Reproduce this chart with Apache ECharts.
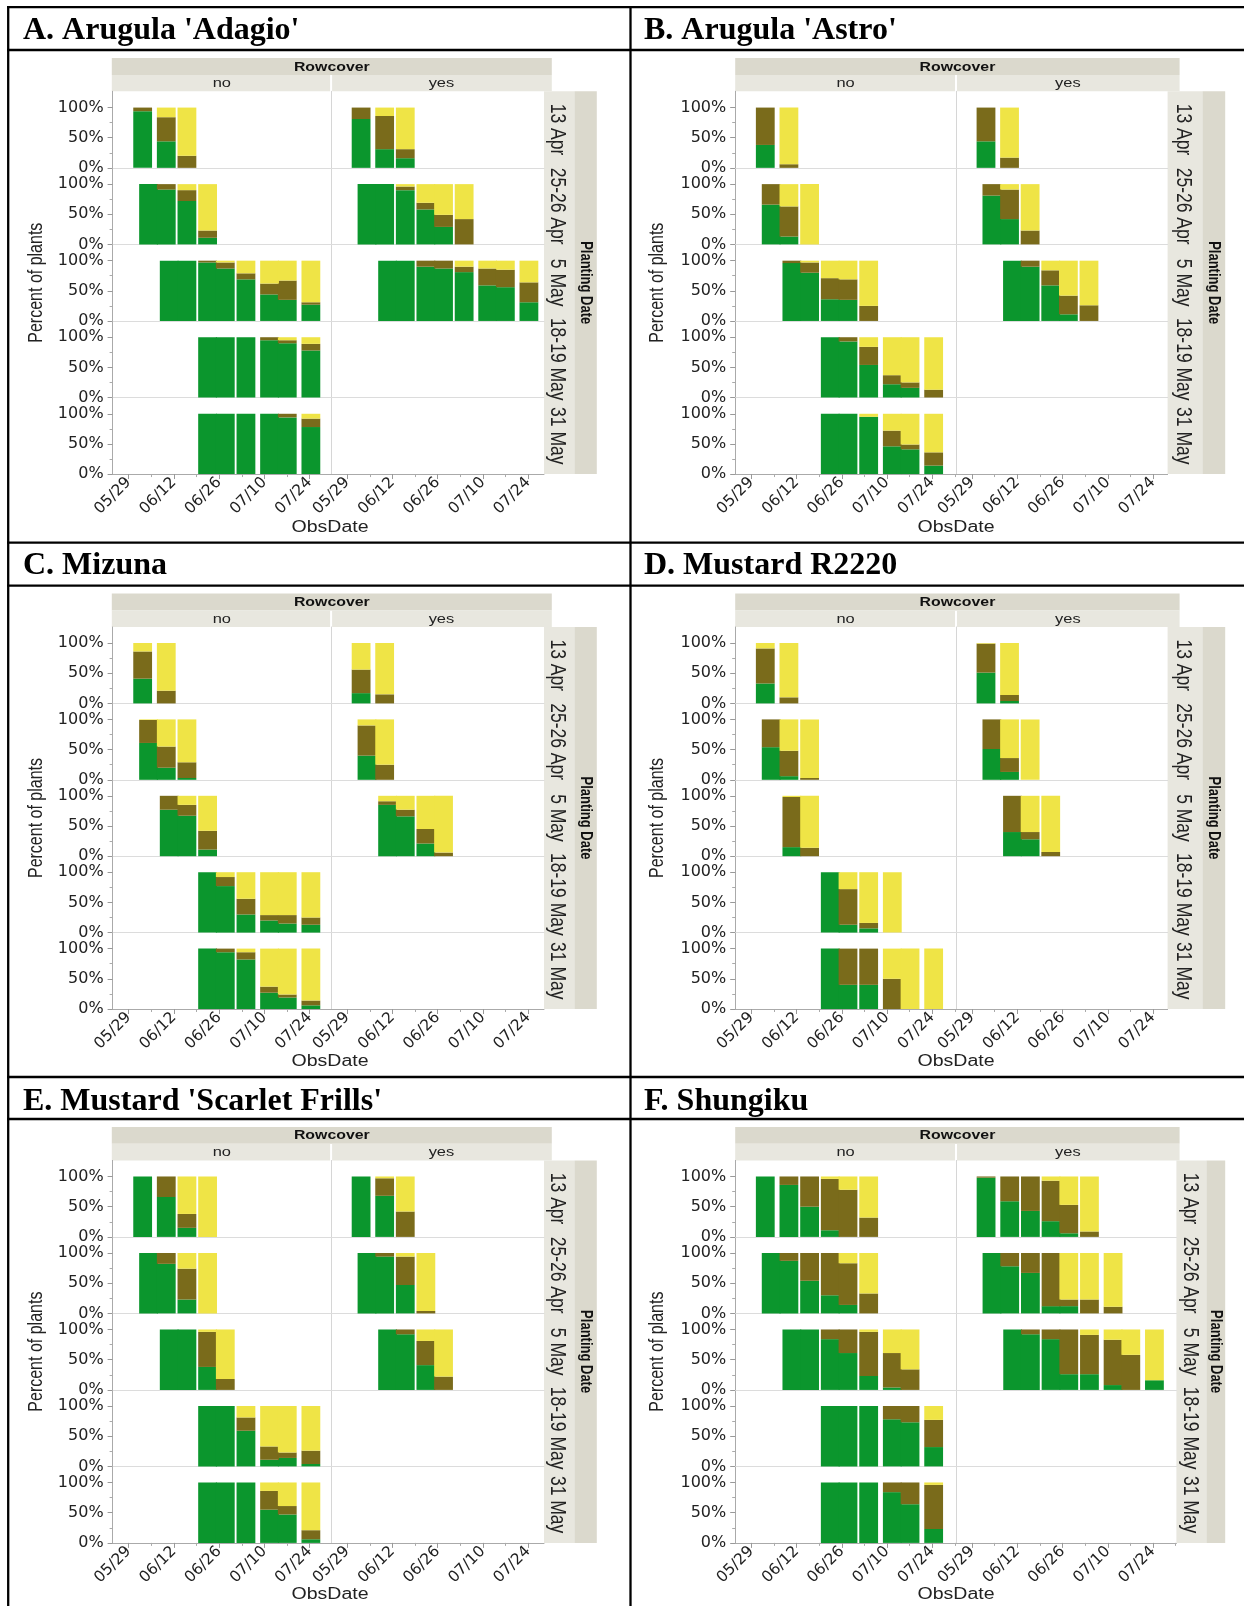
<!DOCTYPE html>
<html>
<head>
<meta charset="UTF-8">
<script src="https://cdn.jsdelivr.net/npm/echarts@6/dist/echarts.min.js"></script>
<style>
  html, body { margin: 0; padding: 0; background: #fff; }
  #chart { width: 1244px; height: 1606px; }
</style>
</head>
<body>
<div id="chart"></div>
<script>
const panelTitles = ["A. Arugula 'Adagio'", "B. Arugula 'Astro'", "C. Mizuna",
  "D. Mustard R2220", "E. Mustard 'Scarlet Frills'", "F. Shungiku"];
const rowcoverLevels = ['no', 'yes'];
const plantingDates = ['13 Apr', '25-26 Apr', '5 May', '18-19 May', '31 May'];
const dateTicks = ['05/29', '06/12', '06/26', '07/10', '07/24'];
const minorDateTicks = ['06/05', '06/19', '07/03', '07/17', '07/31'];
const percentTicks = [0, 50, 100];
const minorPercentTicks = [25, 75];
const stageNames = ['green', 'olive', 'yellow'];
const stageColors = ['#0b962d', '#7a6b1b', '#efe446'];

// one line per planting date; each bar is [ObsDate, % green, % olive, % yellow]
const adagioNo = [
  [['05/31', 94, 6, 0], ['06/08', 44, 40, 16], ['06/15', 0, 20, 80]],
  [['06/02', 100, 0, 0], ['06/08', 91, 9, 0], ['06/15', 72, 18, 10], ['06/22', 11, 12, 77]],
  [['06/09', 100, 0, 0], ['06/15', 100, 0, 0], ['06/22', 97, 3, 0], ['06/28', 87, 10, 3], ['07/05', 69, 10, 21], ['07/13', 44, 18, 38], ['07/19', 35, 32, 33], ['07/27', 27, 4, 69]],
  [['06/22', 100, 0, 0], ['06/28', 100, 0, 0], ['07/05', 100, 0, 0], ['07/13', 95, 5, 0], ['07/19', 90, 5, 5], ['07/27', 78, 11, 11]],
  [['06/22', 100, 0, 0], ['06/28', 100, 0, 0], ['07/05', 100, 0, 0], ['07/13', 100, 0, 0], ['07/19', 94, 6, 0], ['07/27', 78, 14, 8]]
];
const adagioYes = [
  [['05/31', 81, 19, 0], ['06/08', 31, 55, 14], ['06/15', 16, 15, 69]],
  [['06/02', 100, 0, 0], ['06/08', 100, 0, 0], ['06/15', 90, 6, 4], ['06/22', 58, 11, 31], ['06/28', 29, 20, 51], ['07/05', 0, 42, 58]],
  [['06/09', 100, 0, 0], ['06/15', 100, 0, 0], ['06/22', 90, 10, 0], ['06/28', 87, 13, 0], ['07/05', 81, 9, 10], ['07/13', 59, 28, 13], ['07/19', 56, 29, 15], ['07/27', 31, 33, 36]],
  [],
  []
];
const astroNo = [
  [['05/31', 38, 62, 0], ['06/08', 0, 6, 94]],
  [['06/02', 66, 34, 0], ['06/08', 13, 50, 37], ['06/15', 0, 0, 100]],
  [['06/09', 96, 4, 0], ['06/15', 80, 17, 3], ['06/22', 36, 35, 29], ['06/28', 35, 34, 31], ['07/05', 0, 25, 75]],
  [['06/22', 100, 0, 0], ['06/28', 93, 7, 0], ['07/05', 54, 30, 16], ['07/13', 22, 15, 63], ['07/19', 16, 9, 75], ['07/27', 0, 13, 87]],
  [['06/22', 100, 0, 0], ['06/28', 100, 0, 0], ['07/05', 95, 0, 5], ['07/13', 46, 26, 28], ['07/19', 41, 8, 51], ['07/27', 14, 22, 64]]
];
const astroYes = [
  [['05/31', 44, 56, 0], ['06/08', 0, 17, 83]],
  [['06/02', 81, 19, 0], ['06/08', 42, 49, 9], ['06/15', 0, 23, 77]],
  [['06/09', 100, 0, 0], ['06/15', 90, 10, 0], ['06/22', 59, 25, 16], ['06/28', 11, 31, 58], ['07/05', 0, 26, 74]],
  [],
  []
];
const mizunaNo = [
  [['05/31', 41, 45, 14], ['06/08', 0, 21, 79]],
  [['06/02', 61, 38, 1], ['06/08', 20, 35, 45], ['06/15', 3, 26, 71]],
  [['06/09', 77, 23, 0], ['06/15', 67, 18, 15], ['06/22', 11, 31, 58]],
  [['06/22', 100, 0, 0], ['06/28', 77, 15, 8], ['07/05', 30, 26, 44], ['07/13', 20, 9, 71], ['07/19', 15, 14, 71], ['07/27', 13, 12, 75]],
  [['06/22', 100, 0, 0], ['06/28', 94, 6, 0], ['07/05', 82, 12, 6], ['07/13', 27, 10, 63], ['07/19', 19, 5, 76], ['07/27', 6, 8, 86]]
];
const mizunaYes = [
  [['05/31', 17, 39, 44], ['06/08', 0, 15, 85]],
  [['06/02', 40, 50, 10], ['06/08', 0, 25, 75]],
  [['06/09', 85, 6, 9], ['06/15', 66, 11, 23], ['06/22', 21, 24, 55], ['06/28', 0, 6, 94]],
  [],
  []
];
const r2220No = [
  [['05/31', 33, 58, 9], ['06/08', 0, 10, 90]],
  [['06/02', 54, 46, 0], ['06/08', 6, 42, 52], ['06/15', 0, 3, 97]],
  [['06/09', 15, 83, 2], ['06/15', 0, 14, 86]],
  [['06/22', 100, 0, 0], ['06/28', 13, 59, 28], ['07/05', 7, 9, 84], ['07/13', 0, 0, 100]],
  [['06/22', 100, 0, 0], ['06/28', 40, 60, 0], ['07/05', 40, 60, 0], ['07/13', 0, 50, 50], ['07/19', 0, 0, 100], ['07/27', 0, 0, 100]]
];
const r2220Yes = [
  [['05/31', 51, 48, 1], ['06/08', 4, 10, 86]],
  [['06/02', 51, 49, 0], ['06/08', 13, 23, 64], ['06/15', 0, 0, 100]],
  [['06/09', 40, 60, 0], ['06/15', 28, 12, 60], ['06/22', 0, 7, 93]],
  [],
  []
];
const scarletNo = [
  [['05/31', 100, 0, 0], ['06/08', 66, 34, 0], ['06/15', 15, 23, 62], ['06/22', 0, 0, 100]],
  [['06/02', 100, 0, 0], ['06/08', 82, 18, 0], ['06/15', 23, 51, 26], ['06/22', 0, 0, 100]],
  [['06/09', 100, 0, 0], ['06/15', 100, 0, 0], ['06/22', 38, 58, 4], ['06/28', 0, 18, 82]],
  [['06/22', 100, 0, 0], ['06/28', 100, 0, 0], ['07/05', 59, 22, 19], ['07/13', 11, 22, 67], ['07/19', 14, 9, 77], ['07/27', 4, 22, 74]],
  [['06/22', 100, 0, 0], ['06/28', 100, 0, 0], ['07/05', 100, 0, 0], ['07/13', 55, 31, 14], ['07/19', 47, 14, 39], ['07/27', 6, 15, 79]]
];
const scarletYes = [
  [['05/31', 100, 0, 0], ['06/08', 68, 29, 3], ['06/15', 0, 42, 58]],
  [['06/02', 100, 0, 0], ['06/08', 94, 6, 0], ['06/15', 47, 47, 6], ['06/22', 0, 4, 96]],
  [['06/09', 100, 0, 0], ['06/15', 92, 8, 0], ['06/22', 41, 40, 19], ['06/28', 0, 22, 78]],
  [],
  []
];
const shungikuNo = [
  [['05/31', 100, 0, 0], ['06/08', 86, 14, 0], ['06/15', 50, 50, 0], ['06/22', 11, 85, 4], ['06/28', 0, 78, 22], ['07/05', 0, 32, 68]],
  [['06/02', 100, 0, 0], ['06/08', 87, 13, 0], ['06/15', 54, 46, 0], ['06/22', 30, 70, 0], ['06/28', 14, 69, 17], ['07/05', 0, 33, 67]],
  [['06/09', 100, 0, 0], ['06/15', 100, 0, 0], ['06/22', 84, 16, 0], ['06/28', 61, 39, 0], ['07/05', 23, 73, 4], ['07/13', 4, 57, 39], ['07/19', 0, 34, 66]],
  [['06/22', 100, 0, 0], ['06/28', 100, 0, 0], ['07/05', 100, 0, 0], ['07/13', 78, 22, 0], ['07/19', 73, 27, 0], ['07/27', 32, 45, 23]],
  [['06/22', 100, 0, 0], ['06/28', 100, 0, 0], ['07/05', 100, 0, 0], ['07/13', 84, 16, 0], ['07/19', 64, 36, 0], ['07/27', 23, 73, 4]]
];
const shungikuYes = [
  [['05/31', 98, 2, 0], ['06/08', 59, 41, 0], ['06/15', 43, 57, 0], ['06/22', 26, 67, 7], ['06/28', 6, 47, 47], ['07/05', 0, 9, 91]],
  [['06/02', 100, 0, 0], ['06/08', 78, 22, 0], ['06/15', 67, 33, 0], ['06/22', 12, 88, 0], ['06/28', 12, 11, 77], ['07/05', 0, 23, 77], ['07/13', 0, 11, 89]],
  [['06/09', 100, 0, 0], ['06/15', 92, 8, 0], ['06/22', 84, 16, 0], ['06/28', 26, 74, 0], ['07/05', 26, 65, 9], ['07/13', 8, 75, 17], ['07/19', 0, 58, 42], ['07/27', 16, 0, 84]],
  [],
  []
];
const panelData = [
  [adagioNo, adagioYes], [astroNo, astroYes], [mizunaNo, mizunaYes],
  [r2220No, r2220Yes], [scarletNo, scarletYes], [shungikuNo, shungikuYes]
];

// layout (pixels)
const PX_PER_DAY = 3.229;
const X_START = '05/24';
const layoutCols = [
  { noLeft: 112.6, noWidth: 218.5, yesLeft: 331.1, yesWidth: 212.9, hdrLeft: 111.8, hdrRight: 551.8,
    stripL: 544, stripMid: 574.4, stripR: 596.8, yTitleX: 37, titleX: 23, obsX: 330 },
  { noLeft: 735.2, noWidth: 220.8, yesLeft: 956, yesWidth: 211.6, hdrLeft: 735.2, hdrRight: 1179.6,
    stripL: 1167.6, stripMid: 1202.4, stripR: 1225.2, yTitleX: 658, titleX: 644, obsX: 956 }
];
const layoutBands = [
  { titleY: 31, hdrTop: 58, subTop: 75, plotTop: 91.3, rowH: 76.55, yMax: 127, obsY: 528 },
  { titleY: 566, hdrTop: 593.5, subTop: 610.5, plotTop: 627, rowH: 76.4, yMax: 126.5, obsY: 1062 },
  { titleY: 1102, hdrTop: 1127, subTop: 1143.7, plotTop: 1160.4, rowH: 76.5, yMax: 126.6, obsY: 1595 }
];
// panel F has a wider yes column and a narrower strip
const panelOverrides = { 5: { yesWidth: 220.4, stripL: 1176.4, stripMid: 1206.4 } };
// the source figure is stretched sideways; text is widened to match
const STRETCH = 1.22;

const SANS = '"Liberation Sans", Arial, sans-serif';
const WIDE_SANS = '"DejaVu Sans", "Liberation Sans", sans-serif';
const DAY = 86400000;
function ts(md) {
  const [m, d] = md.split('/').map(Number);
  return Date.UTC(2017, m - 1, d);
}
function dateLabel(v) {
  const dt = new Date(Math.round(v / DAY) * DAY);
  return String(dt.getUTCMonth() + 1).padStart(2, '0') + '/' + String(dt.getUTCDate()).padStart(2, '0');
}

const grids = [], xAxes = [], yAxes = [], series = [], graphics = [];

function addRect(x, y, w, h, fill) {
  graphics.push({ type: 'rect', silent: true, shape: { x, y, width: w, height: h }, style: { fill } });
}
function addText(x, y, text, size, opts) {
  opts = opts || {};
  const rotated = !!opts.rotation;
  const s = opts.stretch || 1;
  graphics.push({
    type: 'text', silent: true, x, y, rotation: opts.rotation || 0,
    scaleX: rotated ? 1 : s, scaleY: rotated ? s : 1,
    style: {
      text, fill: opts.color || '#222', fontSize: size, fontFamily: opts.family || SANS,
      fontWeight: opts.weight || 'normal', align: opts.align || 'center', verticalAlign: 'middle'
    }
  });
}
function addLine(x1, y1, x2, y2, w) {
  graphics.push({ type: 'line', silent: true, shape: { x1, y1, x2, y2 }, style: { stroke: '#000', lineWidth: w } });
}

panelTitles.forEach((title, p) => {
  const col = Object.assign({}, layoutCols[p % 2], panelOverrides[p] || {});
  const band = layoutBands[Math.floor(p / 2)];
  const plotBottom = band.plotTop + 5 * band.rowH;

  // headers and strips
  addRect(col.hdrLeft, band.hdrTop, col.hdrRight - col.hdrLeft, band.subTop - band.hdrTop, '#dbd9cd');
  addRect(col.hdrLeft, band.subTop, col.yesLeft - col.hdrLeft - 1, band.plotTop - band.subTop, '#e8e7df');
  addRect(col.yesLeft + 1, band.subTop, col.hdrRight - col.yesLeft - 1, band.plotTop - band.subTop, '#e8e7df');
  addText((col.hdrLeft + col.hdrRight) / 2, (band.hdrTop + band.subTop) / 2 + 0.5, 'Rowcover', 13,
    { weight: 'bold', color: '#111', stretch: STRETCH });
  addText(col.noLeft + col.noWidth / 2, (band.subTop + band.plotTop) / 2 + 0.5, rowcoverLevels[0], 13.5,
    { color: '#222', stretch: STRETCH });
  addText((col.yesLeft + col.hdrRight) / 2, (band.subTop + band.plotTop) / 2 + 0.5, rowcoverLevels[1], 13.5,
    { color: '#222', stretch: STRETCH });
  addRect(col.stripL, band.plotTop, col.stripMid - col.stripL, plotBottom - band.plotTop, '#e8e7df');
  addRect(col.stripMid, band.plotTop, col.stripR - col.stripMid, plotBottom - band.plotTop, '#dbd9cd');
  plantingDates.forEach((pd, r) => {
    addText((col.stripL + col.stripMid) / 2 - 2, band.plotTop + (r + 0.5) * band.rowH, pd, 17.5,
      { rotation: -Math.PI / 2, color: '#222', stretch: STRETCH });
  });
  addText((col.stripMid + col.stripR) / 2, (band.plotTop + plotBottom) / 2, 'Planting Date', 13,
    { rotation: -Math.PI / 2, weight: 'bold', color: '#111', stretch: STRETCH });
  addText(col.yTitleX, (band.plotTop + plotBottom) / 2, 'Percent of plants', 16,
    { rotation: Math.PI / 2, color: '#222', stretch: STRETCH });
  addText(col.obsX, band.obsY, 'ObsDate', 16, { color: '#222', stretch: STRETCH });
  addText(col.titleX, band.titleY, title, 32,
    { align: 'left', weight: 'bold', family: '"Liberation Serif", "Times New Roman", serif', color: '#000' });

  rowcoverLevels.forEach((rc, c) => {
    const left = c === 0 ? col.noLeft : col.yesLeft;
    const width = c === 0 ? col.noWidth : col.yesWidth;
    const xMin = ts(X_START);
    const xMax = xMin + width / PX_PER_DAY * DAY;
    plantingDates.forEach((pd, r) => {
      const gi = grids.length;
      const bottomRow = r === plantingDates.length - 1;
      grids.push({ left, top: band.plotTop + r * band.rowH, width, height: band.rowH, outerBoundsMode: 'none' });
      // visible date axis (value type, so ticks can sit on the listed dates)
      xAxes.push({
        type: 'value', gridIndex: gi, min: xMin, max: xMax, position: 'bottom',
        splitLine: { show: false },
        axisLine: { show: true, onZero: false, lineStyle: { color: bottomRow ? '#aaaaaa' : '#dcdcdc', width: 1 } },
        axisTick: { show: bottomRow, length: 5, customValues: dateTicks.map(ts), lineStyle: { color: '#999' } },
        axisLabel: {
          show: bottomRow, customValues: dateTicks.map(ts), formatter: dateLabel, rotate: 45,
          margin: 6, fontSize: 15.5, fontFamily: WIDE_SANS, color: '#222'
        }
      });
      // hidden time axis that the bars use, same extent
      xAxes.push({
        type: 'time', gridIndex: gi, min: xMin, max: xMax, position: 'bottom',
        splitLine: { show: false }, axisLine: { show: false, onZero: false },
        axisTick: { show: false }, axisLabel: { show: false }
      });
      const ti = xAxes.length - 1;
      yAxes.push({
        type: 'value', gridIndex: gi, min: 0, max: band.yMax,
        splitLine: { show: false },
        axisLine: { show: true, onZero: false, lineStyle: { color: c === 0 ? '#aaaaaa' : '#d6d6d6', width: 1 } },
        axisTick: { show: c === 0, length: 5, customValues: percentTicks, lineStyle: { color: '#999' } },
        axisLabel: {
          show: c === 0, customValues: percentTicks, formatter: v => v + '%',
          margin: 9, fontSize: 16, fontFamily: WIDE_SANS, color: '#222'
        }
      });
      const yi = yAxes.length - 1;
      if (bottomRow) {
        xAxes.push({
          type: 'value', gridIndex: gi, min: xMin, max: xMax, position: 'bottom',
          splitLine: { show: false }, axisLine: { show: false, onZero: false }, axisLabel: { show: false },
          axisTick: { show: true, length: 3, customValues: minorDateTicks.map(ts), lineStyle: { color: '#aaa' } }
        });
      }
      if (c === 0) {
        yAxes.push({
          type: 'value', gridIndex: gi, min: 0, max: band.yMax, position: 'left',
          splitLine: { show: false }, axisLine: { show: false, onZero: false }, axisLabel: { show: false },
          axisTick: { show: true, length: 3, customValues: minorPercentTicks, lineStyle: { color: '#aaa' } }
        });
      }
      const bars = panelData[p][c][r];
      if (!bars.length) return;
      stageNames.forEach((name, k) => {
        series.push({
          type: 'bar', name, xAxisIndex: ti, yAxisIndex: yi, stack: 'g' + gi,
          barWidth: 18.8, silent: true, clip: true,
          itemStyle: { color: stageColors[k] },
          data: bars.map(b => [ts(b[0]), b[k + 1]])
        });
      });
    });
  });
});

// table rules
[7.2, 50, 542.7, 585.7, 1077, 1119].forEach(y => addLine(7, y, 1244, y, 2.3));
[8.2, 630.5].forEach(x => addLine(x, 6, x, 1606, 2.3));

const chart = echarts.init(document.getElementById('chart'), null, { renderer: 'canvas' });
chart.setOption({
  animation: false,
  backgroundColor: '#ffffff',
  grid: grids,
  xAxis: xAxes,
  yAxis: yAxes,
  series: series,
  graphic: graphics
});
</script>
</body>
</html>
